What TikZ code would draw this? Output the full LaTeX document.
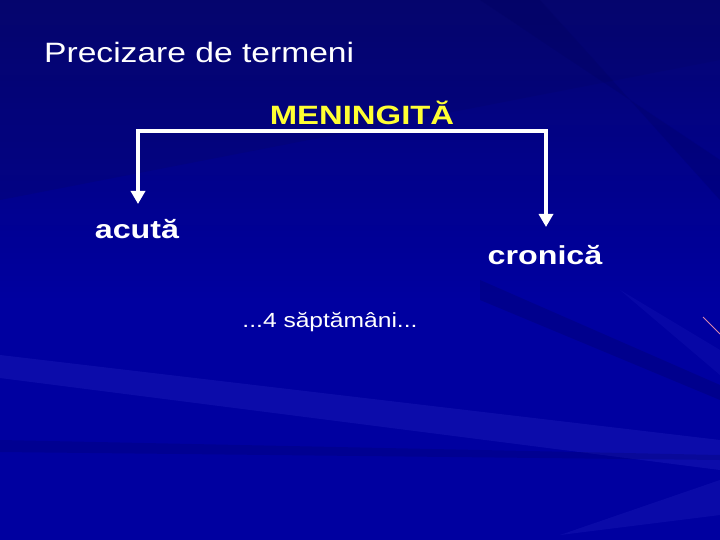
\documentclass[tikz,border=0pt]{standalone}
\usepackage{fontspec}
\setmainfont{Liberation Sans}
\newfontfamily\titlefont[FakeStretch=1.2]{Liberation Sans}
\newfontfamily\boldwide[FakeStretch=1.24]{Liberation Sans Bold}
\definecolor{bgblue}{HTML}{0000A0}
\definecolor{bgdark}{HTML}{06066A}
\definecolor{raylight}{HTML}{3A3AD0}
\definecolor{raydark}{HTML}{000058}
\definecolor{menyellow}{HTML}{FFFF33}
\tikzset{
  arrowline/.style={draw=white, line width=4.5pt, -{Triangle[length=13pt,width=14pt]}},
  bracketline/.style={draw=white, line width=4.5pt},
  titletext/.style={text=white, font=\titlefont\fontsize{28}{30}\selectfont, anchor=base west, inner sep=0pt},
  headtext/.style={text=menyellow, font=\boldwide\fontsize{26.5}{28}\selectfont, inner sep=0pt, anchor=base},
  termtext/.style={text=white, font=\boldwide\fontsize{26}{28}\selectfont, inner sep=0pt, anchor=base},
  notetext/.style={text=white, font=\titlefont\fontsize{20.5}{24}\selectfont, inner sep=0pt, anchor=base},
}
\usetikzlibrary{arrows.meta}
\begin{document}
\begin{tikzpicture}[x=1pt,y=-1pt]
\useasboundingbox (0,0) rectangle (720,540);
% background
\fill[bgblue] (0,0) rectangle (720,540);
\shade[top color=bgdark, bottom color=bgblue, opacity=0.9] (0,0) rectangle (720,300);
\fill[bgdark, opacity=0.3] (0,0) -- (720,0) -- (720,60) -- (0,200) -- cycle;
% rays
\fill[raylight, opacity=0.22] (0,355) -- (0,378) -- (720,470) -- (720,440) -- cycle;
\fill[raylight, opacity=0.18] (560,535) -- (720,515) -- (720,480) -- cycle;
\fill[raylight, opacity=0.13] (620,290) -- (720,350) -- (720,375) -- cycle;
\fill[raydark, opacity=0.25] (480,280) -- (720,385) -- (720,400) -- (480,300) -- cycle;
\fill[raydark, opacity=0.2] (0,440) -- (720,455) -- (720,460) -- (0,452) -- cycle;
\fill[raydark, opacity=0.22] (480,0) -- (720,160) -- (720,200) -- (540,0) -- cycle;
\draw[pink!70!violet, line width=0.8pt] (703,317) -- (720,334);
% content
\node[titletext] (title) at (44,63) {Precizare de termeni};
\node[headtext] (men) at (362,124.5) {MENINGITĂ};
\node[termtext] (acuta) at (137,239) {acută};
\node[termtext] (cronica) at (545,264) {cronică};
\node[notetext] (note) at (330,327.5) {...4 săptămâni...};
\coordinate (cl) at (138,131);
\coordinate (cr) at (546,131);
\coordinate (al) at (138,204);
\coordinate (ar) at (546,227);
\draw[bracketline] ([xshift=-2.25pt]cl) -- ([xshift=2.25pt]cr);
\draw[arrowline] (cl) -- (al);
\draw[arrowline] (cr) -- (ar);
\end{tikzpicture}
\end{document}
